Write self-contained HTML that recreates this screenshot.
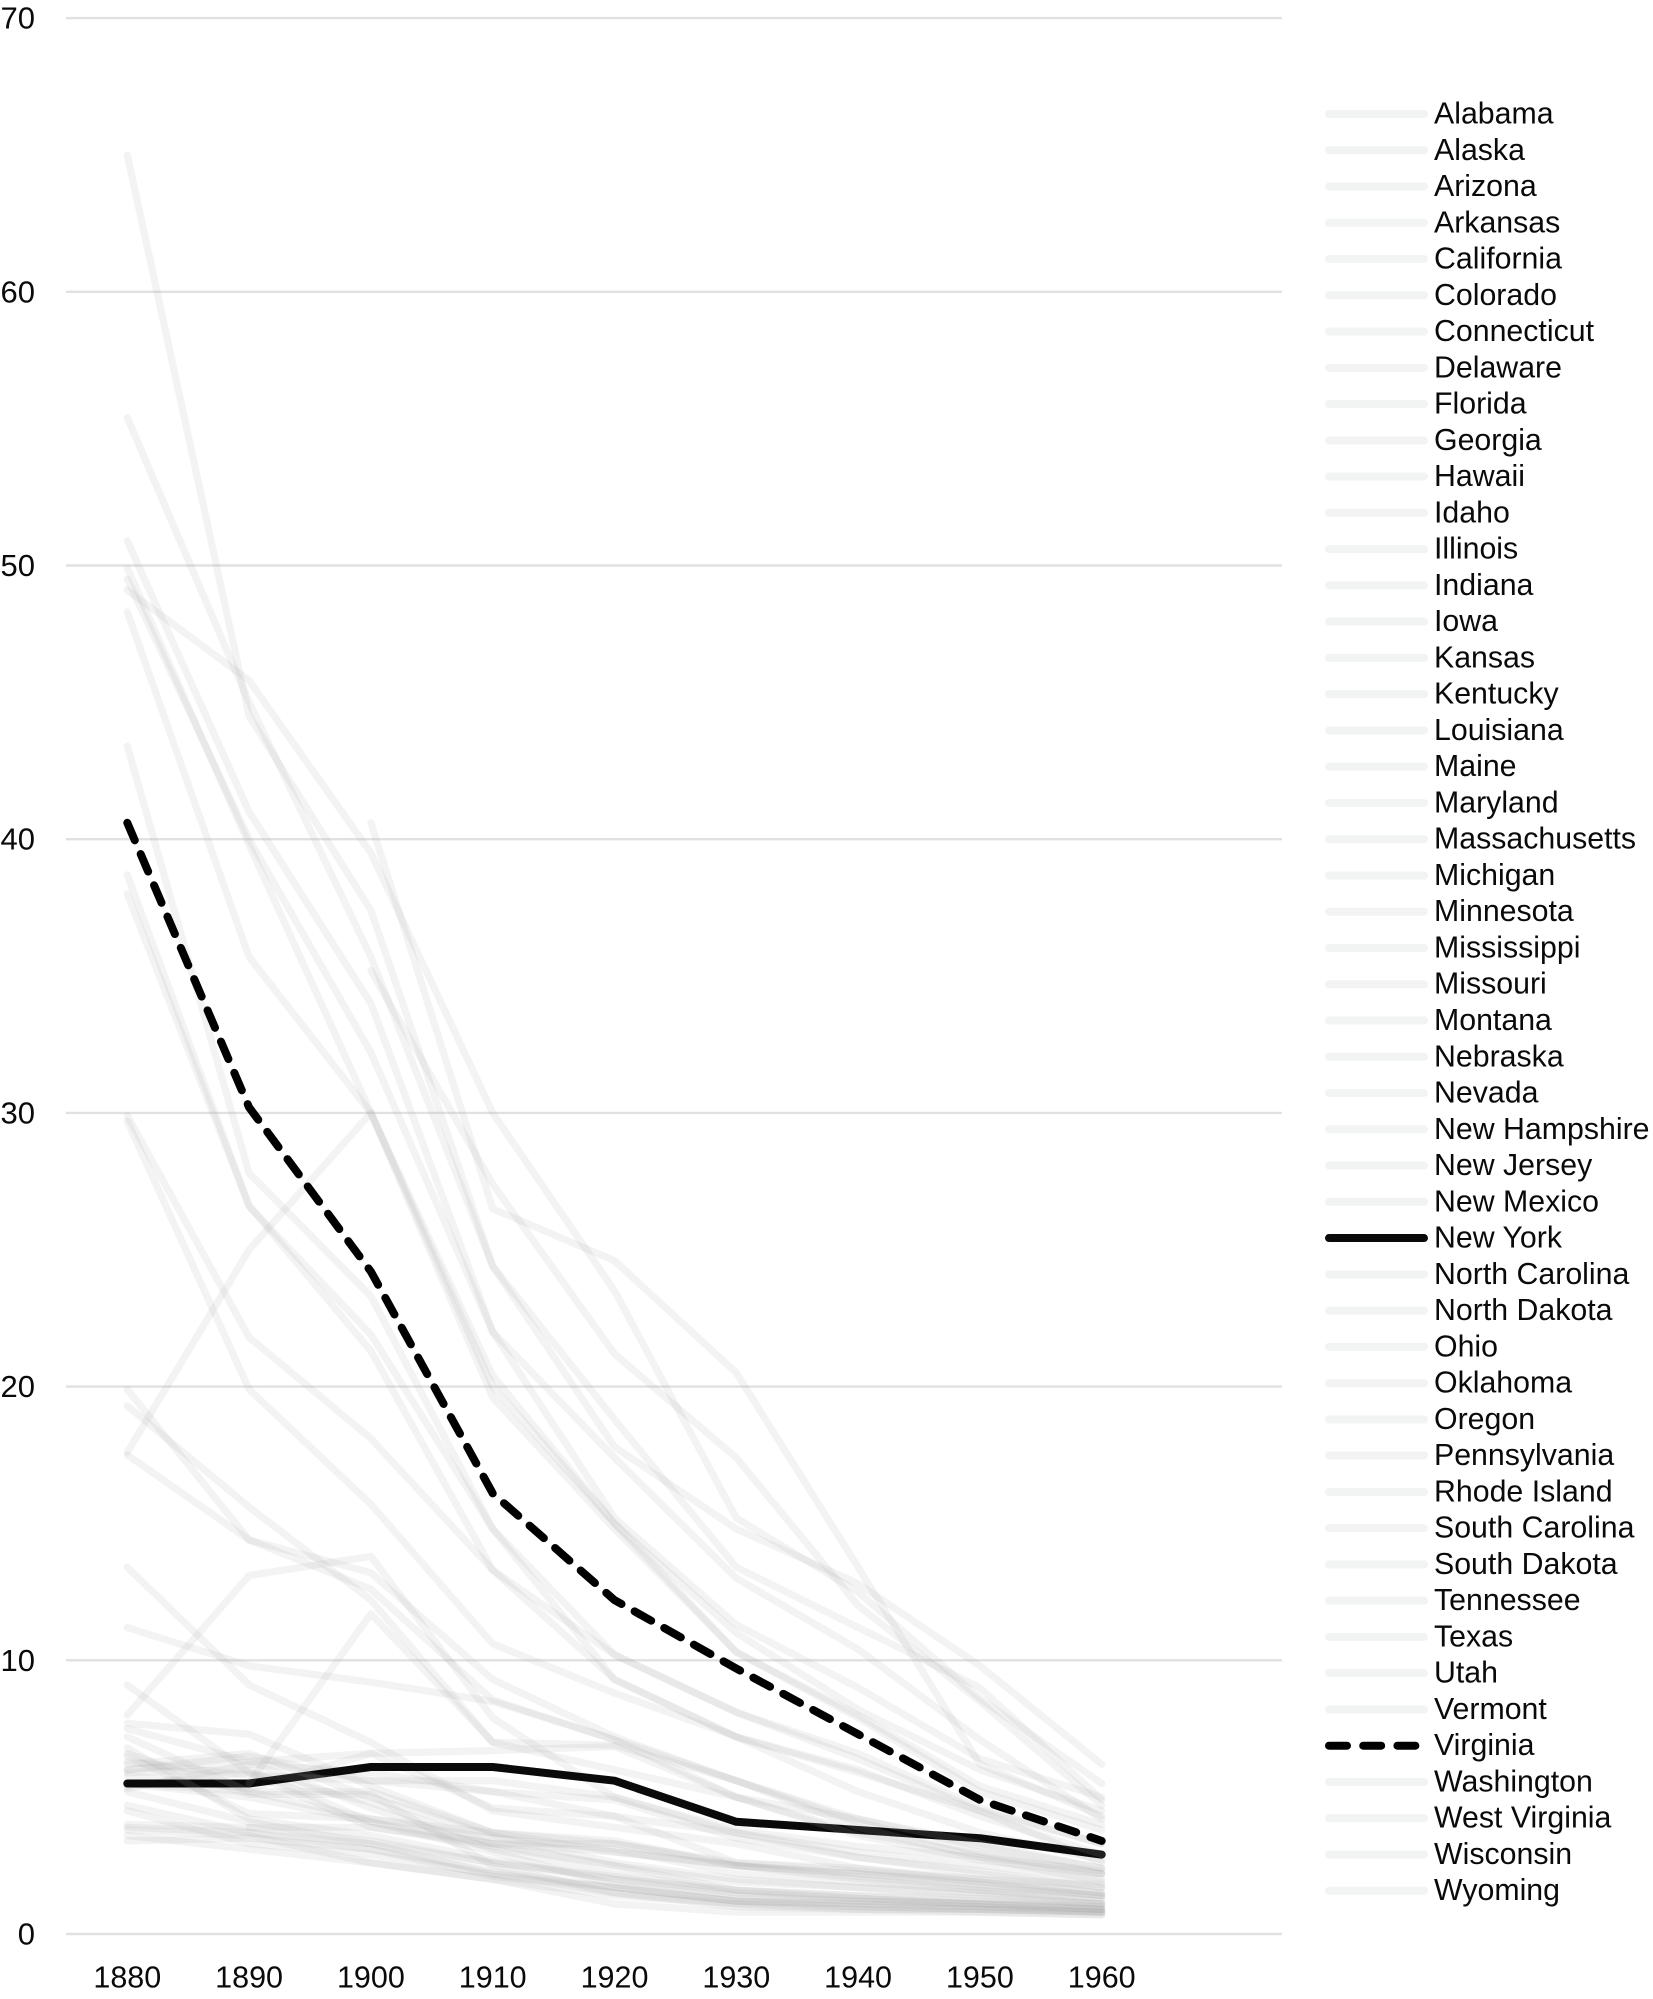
<!DOCTYPE html>
<html lang="en">
<head>
<meta charset="utf-8">
<title>State rates, 1880–1960</title>
<style>
html,body{margin:0;padding:0;background:#fff}
svg{display:block}
text{font-family:"Liberation Sans",sans-serif;fill:#0a0a0a}
</style>
</head>
<body>
<svg id="chart" width="1653" height="1999" viewBox="0 0 1653 1999" xmlns="http://www.w3.org/2000/svg">
  <g id="grid"></g>
  <g id="y-axis"></g>
  <g id="x-axis"></g>
  <g id="series"></g>
  <g id="legend"></g>
</svg>
<script>
const years = [1880, 1890, 1900, 1910, 1920, 1930, 1940, 1950, 1960];
const yTicks = [0, 10, 20, 30, 40, 50, 60, 70];
const stateNames = ["Alabama","Alaska","Arizona","Arkansas","California","Colorado","Connecticut","Delaware","Florida","Georgia","Hawaii","Idaho","Illinois","Indiana","Iowa","Kansas","Kentucky","Louisiana","Maine","Maryland","Massachusetts","Michigan","Minnesota","Mississippi","Missouri","Montana","Nebraska","Nevada","New Hampshire","New Jersey","New Mexico","New York","North Carolina","North Dakota","Ohio","Oklahoma","Oregon","Pennsylvania","Rhode Island","South Carolina","South Dakota","Tennessee","Texas","Utah","Vermont","Virginia","Washington","West Virginia","Wisconsin","Wyoming"];

const alabama = [50.9,41.0,34.0,22.0,17.4,13.0,10.4,7.1,4.2];
const alaska = [null,null,35.2,27.4,21.2,17.4,12.0,8.5,4.7];
const arizona = [17.6,25.0,30.0,20.4,15.0,10.3,7.9,5.2,3.8];
const arkansas = [38.0,26.6,21.3,13.3,9.3,7.2,5.2,3.7,2.7];
const california = [7.7,7.3,5.4,3.7,3.3,2.6,2.4,2.0,1.8];
const colorado = [6.5,4.4,4.2,3.5,3.1,2.2,1.9,1.6,1.2];
const connecticut = [5.8,5.3,6.6,6.7,6.85,5.0,3.7,2.9,2.2];
const delaware = [19.9,14.4,13.2,9.3,7.2,5.6,4.2,3.2,2.4];
const florida = [43.4,27.8,23.3,14.8,10.2,8.1,6.4,4.5,2.6];
const georgia = [49.9,39.8,30.0,20.0,15.0,11.0,8.2,6.0,4.5];
const hawaii = [null,null,40.6,26.5,24.6,20.5,13.4,6.2,4.3];
const idaho = [6.6,5.1,5.1,2.5,1.5,1.1,1.0,0.9,0.8];
const illinois = [5.5,5.2,4.2,3.7,3.4,2.5,2.2,1.8,1.4];
const indiana = [7.5,6.3,4.6,3.1,2.2,1.6,1.4,1.3,1.1];
const iowa = [3.8,3.6,2.6,2.0,1.1,0.8,0.8,0.8,0.7];
const kansas = [4.5,3.3,2.9,2.2,1.7,1.2,1.1,1.0,0.8];
const kentucky = [29.9,21.8,18.1,13.3,10.2,8.1,6.6,4.6,3.3];
const louisiana = [49.1,45.8,39.5,30.0,23.5,15.2,12.5,8.6,5.5];
const maine = [5.5,5.0,4.1,3.3,3.3,2.5,2.2,1.9,1.4];
const maryland = [17.5,14.4,12.6,8.55,7.1,5.6,4.1,3.0,2.2];
const massachusetts = [5.3,6.2,5.9,5.2,4.3,3.7,3.0,2.5,2.0];
const michigan = [5.4,5.9,3.9,3.3,3.0,2.5,2.1,1.7,1.4];
const minnesota = [5.9,6.0,4.1,3.0,1.8,1.3,1.2,1.1,0.9];
const mississippi = [49.5,40.0,32.2,22.0,15.2,11.3,9.0,6.4,5.0];
const missouri = [13.4,9.1,7.0,4.5,3.9,3.3,2.4,1.9,1.5];
const montana = [9.1,5.9,4.8,3.3,2.5,1.6,1.3,1.1,0.9];
const nebraska = [3.6,3.1,2.6,2.0,1.4,1.1,0.9,0.8,0.7];
const nevada = [8.0,13.1,13.8,7.9,5.0,3.7,2.8,2.2,1.7];
const newHampshire = [6.0,6.3,6.6,4.6,4.3,2.6,2.3,2.0,1.5];
const newJersey = [6.0,6.5,5.6,5.6,5.0,3.8,3.2,2.8,2.3];
const newMexico = [65.0,44.5,37.4,24.4,18.8,13.4,11.2,9.0,4.9];
const newYork = [5.5,5.5,6.1,6.1,5.6,4.1,3.8,3.5,2.9];
const northCarolina = [48.3,35.7,30.0,19.6,14.8,10.3,8.0,5.4,4.0];
const northDakota = [null,3.9,3.9,3.2,2.5,1.9,1.7,1.5,1.1];
const ohio = [5.2,4.1,3.3,2.6,2.0,1.6,1.4,1.2,1.0];
const oklahoma = [null,5.5,11.7,7.0,6.9,5.6,3.9,2.8,1.9];
const oregon = [4.7,3.7,3.3,2.2,1.5,1.0,0.9,0.9,0.8];
const pennsylvania = [6.3,5.8,5.6,5.2,4.9,3.5,2.8,2.3,1.7];
const rhodeIsland = [11.2,9.8,9.2,8.5,7.1,5.0,3.6,2.7,2.2];
const southCarolina = [55.4,45.0,35.7,24.4,17.8,14.8,12.8,9.8,6.2];
const southDakota = [6.8,4.2,3.6,2.7,2.0,1.4,1.2,1.1,0.9];
const tennessee = [38.7,26.6,21.9,14.8,9.3,7.2,5.9,4.5,3.3];
const texas = [29.7,19.9,15.7,10.6,8.8,7.2,6.0,4.3,2.9];
const utah = [3.9,3.7,3.1,2.3,1.7,1.2,1.0,0.9,0.8];
const vermont = [7.2,5.2,5.2,3.7,3.0,2.5,2.0,1.6,1.3];
const virginia = [40.6,30.2,24.2,16.1,12.2,9.7,7.3,4.9,3.4];
const washington = [3.4,3.5,3.1,2.1,1.7,1.2,1.1,1.0,0.9];
const westVirginia = [19.3,15.6,12.2,7.0,6.0,5.0,4.2,3.3,2.4];
const wisconsin = [6.2,6.6,5.0,3.6,2.6,2.0,1.7,1.4,1.1];
const wyoming = [4.0,3.9,3.4,2.6,2.1,1.5,1.3,1.1,1.0];

const stateValues = [alabama,alaska,arizona,arkansas,california,colorado,connecticut,delaware,florida,georgia,hawaii,idaho,illinois,indiana,iowa,kansas,kentucky,louisiana,maine,maryland,massachusetts,michigan,minnesota,mississippi,missouri,montana,nebraska,nevada,newHampshire,newJersey,newMexico,newYork,northCarolina,northDakota,ohio,oklahoma,oregon,pennsylvania,rhodeIsland,southCarolina,southDakota,tennessee,texas,utah,vermont,virginia,washington,westVirginia,wisconsin,wyoming];

const NS = 'http://www.w3.org/2000/svg';
function xScale(i){ return 127.3 + 121.8 * i; }
function yScale(v){ return 1934 - 27.37 * v; }
function slug(s){ return s.toLowerCase().replace(/\s+/g, '-'); }
function make(tag, parent, attrs){
  const el = document.createElementNS(NS, tag);
  for (const k in attrs) el.setAttribute(k, attrs[k]);
  parent.appendChild(el);
  return el;
}

const gridG = document.getElementById('grid');
const yG = document.getElementById('y-axis');
yTicks.forEach(function(t){
  const line = make('line', gridG, {x1:66, x2:1282, y1:yScale(t), y2:yScale(t), stroke:'#e0e1e1', 'stroke-width':2.4});
  
  
  const label = make('text', yG, {x:35, y:yScale(t) + 10.5, 'text-anchor':'end', 'font-size':31});
  label.textContent = t;
  
  
});

const xG = document.getElementById('x-axis');
years.forEach(function(yr, i){
  const label = make('text', xG, {x:xScale(i), y:1987.5, 'text-anchor':'middle', 'font-size':30.5});
  label.textContent = yr;
  
  
});

function pathFor(values){
  let d = '';
  values.forEach(function(v, i){
    if (v === null) return;
    d += (d ? 'L' : 'M') + xScale(i).toFixed(1) + ' ' + yScale(v).toFixed(1);
  });
  return d;
}

function styleFor(name){
  if (name === 'New York') return {stroke:'#0a0a0a', 'stroke-width':8, 'stroke-opacity':1};
  if (name === 'Virginia') return {stroke:'#000', 'stroke-width':8, 'stroke-opacity':1, 'stroke-dasharray':'19 15'};
  return {stroke:'#a9aeae', 'stroke-width':7.2, 'stroke-opacity':0.145};
}

const seriesG = document.getElementById('series');
stateNames.forEach(function(name, idx){
  const p = make('path', seriesG, Object.assign({d:pathFor(stateValues[idx]), fill:'none', 'stroke-linecap':'round', 'stroke-linejoin':'round'}, styleFor(name)));
  
  
});

const legendG = document.getElementById('legend');
stateNames.forEach(function(name, i){
  const y = 114 + 36.26 * i;
  const entry = make('g', legendG, {});
  
  
  const attrs = {x1:1329, x2:1424, y1:y, y2:y, 'stroke-linecap':'round', 'stroke-width':8, stroke:'#f2f3f3'};
  if (name === 'New York') { attrs.stroke = '#0a0a0a'; }
  if (name === 'Virginia') { attrs.stroke = '#000'; attrs['stroke-dasharray'] = '18 16.2'; }
  const swatch = make('line', entry, attrs);
  
  
  const label = make('text', entry, {x:1434, y:y + 9.5, 'font-size':30.3});
  label.textContent = name;
  
  
});
</script>
</body>
</html>
